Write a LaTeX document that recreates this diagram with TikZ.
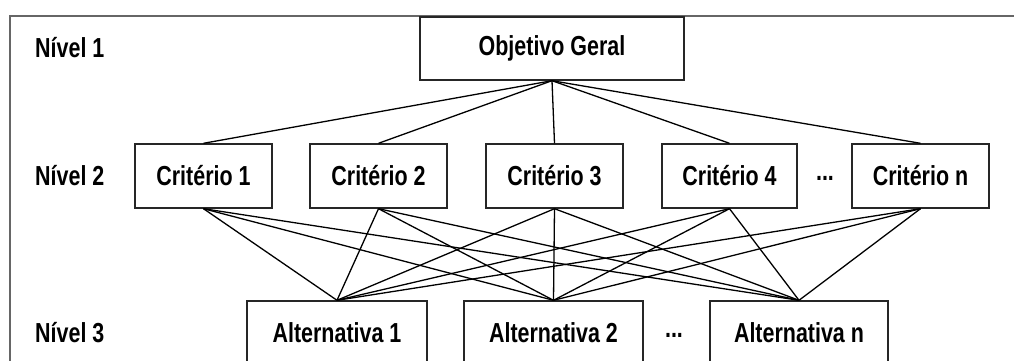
\documentclass[tikz,border=0pt]{standalone}
\usepackage{fontspec}
\setmainfont{Liberation Sans}[FakeStretch=0.78]
\begin{document}
\begin{tikzpicture}[x=1pt,y=-1pt,
  box/.style={draw=black!85, line width=1.4pt, fill=white, inner sep=0pt, font=\fontsize{27.5}{32}\selectfont\bfseries},
  lvl/.style={anchor=west, inner sep=0pt, font=\fontsize{27.5}{32}\selectfont\bfseries},
  dots/.style={inner sep=0pt, font=\fontsize{27.5}{32}\selectfont\bfseries},
  link/.style={black, line width=1.3pt}]
\useasboundingbox (0,0) rectangle (1014,361);
\begin{scope}
\clip (0,0) rectangle (1014,361);
% frame
\draw[black!60, line width=2.2pt] (1020,16) -- (10,16) -- (10,370);
% level labels
\node[lvl] (n1) at (35,48) {Nível 1};
\node[lvl] (n2) at (35,176) {Nível 2};
\node[lvl] (n3) at (35,333) {Nível 3};
% nodes
\node[box, minimum width=264pt, minimum height=63pt] (og) at (552,48.5) {Objetivo Geral};
\node[box, minimum width=137pt, minimum height=64pt] (c1) at (203.5,176) {Critério 1};
\node[box, minimum width=137pt, minimum height=64pt] (c2) at (378.5,176) {Critério 2};
\node[box, minimum width=137pt, minimum height=64pt] (c3) at (554.5,176) {Critério 3};
\node[box, minimum width=135pt, minimum height=64pt] (c4) at (729.5,176) {Critério 4};
\node[dots] (d1) at (825,178) {...};
\node[box, minimum width=137pt, minimum height=64pt] (cn) at (920.5,176) {Critério n};
\node[box, minimum width=180pt, minimum height=64pt] (a1) at (337,333) {Alternativa 1};
\node[box, minimum width=179pt, minimum height=64pt] (a2) at (553.5,333) {Alternativa 2};
\node[dots] (d2) at (674,335) {...};
\node[box, minimum width=178pt, minimum height=64pt] (an) at (799,333) {Alternativa n};
% links
\foreach \c in {c1,c2,c3,c4,cn} {
  \draw[link] (og.south) -- (\c.north);
  \foreach \a in {a1,a2,an} {
    \draw[link] (\c.south) -- (\a.north);
  }
}
\end{scope}
\end{tikzpicture}
\end{document}
